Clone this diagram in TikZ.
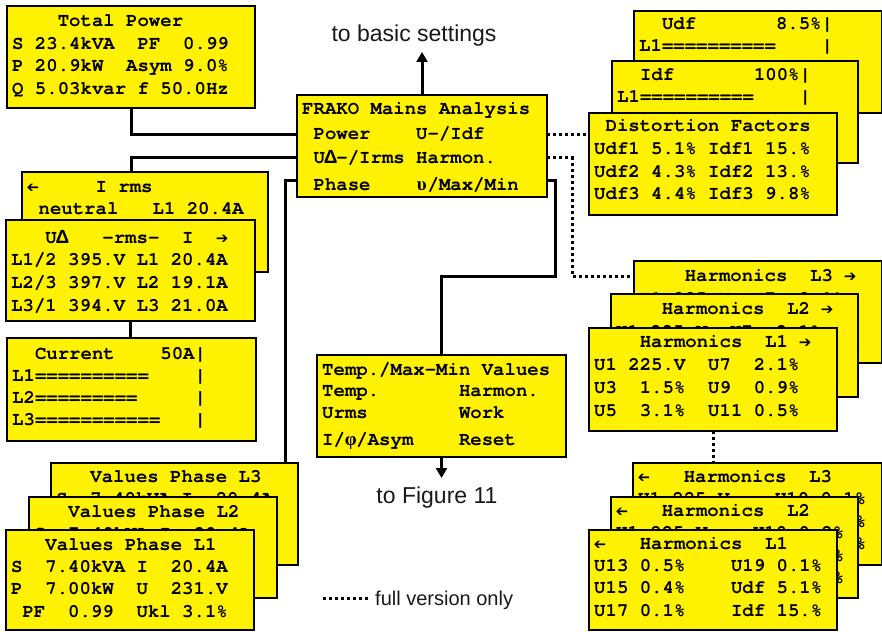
\documentclass[tikz,border=0pt]{standalone}
\usepackage{fontspec}
\newfontfamily\lcdfont{TeX Gyre Cursor}
\newfontfamily\lblfont{Liberation Sans}
\newfontfamily\dingfont{DejaVu Sans}
\newfontfamily\gkfont{Liberation Serif}
\newfontfamily\gksans{Liberation Sans}
\usetikzlibrary{arrows.meta}
\pgfdeclarelayer{wires}
\pgfsetlayers{wires,main}

% one character cell of the display font (19pt, 0.6em advance)
\newdimen\lcdw \lcdw=11.4pt
\newcommand\ind[1]{\hspace*{#1\lcdw}}
\newcommand\lrow[1]{\hbox{#1}}
\newcommand\lcdrows[2]{\vtop{\baselineskip=#1\lineskiplimit=-\maxdimen\lineskip=0pt\relax #2}}
\newcommand\rarr{\makebox[\lcdw]{\dingfont\fontsize{15pt}{15pt}\selectfont ➔}}
\newcommand\larr{\makebox[\lcdw]{\reflectbox{\dingfont\fontsize{15pt}{15pt}\selectfont ➔}}}
\newcommand\gDelta{\makebox[\lcdw]{\gksans\bfseries Δ}}
\newcommand\gups{\makebox[\lcdw]{\gkfont\bfseries υ}}
\newcommand\gphi{\makebox[\lcdw]{\gkfont\bfseries φ}}

\tikzset{
  lcdbox/.style={draw=black, line width=2.4pt, fill=yellow, rectangle,
    inner sep=0pt, outer sep=0pt, anchor=north west},
  lcdtxt/.style={inner sep=0pt, anchor=base west,
    font=\lcdfont\bfseries\fontsize{19pt}{22pt}\selectfont},
  wire/.style={line width=3pt, black},
  dotwire/.style={line width=3pt, black, dash pattern=on 3pt off 3pt},
  arrowline/.style={wire, -{Triangle[length=10pt,width=11pt]}},
  lbl/.style={font=\lblfont\fontsize{23pt}{27pt}\selectfont, inner sep=0pt, text=black!90},
  smalllbl/.style={font=\lblfont\fontsize{20pt}{24pt}\selectfont, inner sep=0pt, text=black!90}
}

% \card{name}{x}{y}{width}{height}{first baseline}{line pitch}{rows}
\newcommand\card[8]{%
  \node[lcdbox, minimum width=#4pt, minimum height=#5pt] (#1) at (#2,#3) {};
  \node[lcdtxt] (#1-t) at (#2+5,#3+#6) {\lcdrows{#7pt}{#8}};
}

\begin{document}
\begin{tikzpicture}[x=1pt, y=-1pt]
\useasboundingbox (0,0) rectangle (882,631);

% ---- main menu
\card{main}{297}{95}{250}{102}{20}{24.5}{%
  \lrow{FRAKO Mains Analysis}
  \lrow{~Power~~~~U-/Idf}
  \lrow{~U\gDelta-/Irms Harmon.}
  \vskip2.5pt
  \lrow{~Phase~~~~\gups/Max/Min}}

% ---- total power
\card{tp}{7}{6}{248}{102}{21}{22.5}{%
  \lrow{~~~~Total Power}
  \lrow{S 23.4kVA~~PF~~0.99}
  \lrow{P 20.9kW~~Asym 9.0\%}
  \lrow{Q 5.03kvar f 50.0Hz}}

% ---- distortion factor screens
\card{udf}{634}{11}{248}{102}{19}{22}{%
  \lrow{~~Udf~~~~~~~8.5\%|}
  \lrow{L1==========~~~~|}}
\card{idf}{612}{61}{246}{102}{20}{22}{%
  \lrow{~~Idf~~~~~~~100\%|}
  \lrow{L1==========~~~~|}}
\card{dist}{589}{113}{248}{102}{19}{22.6}{%
  \lrow{~Distortion Factors}
  \lrow{Udf1 5.1\% Idf1 15.\%}
  \lrow{Udf2 4.3\% Idf2 13.\%}
  \lrow{Udf3 4.4\% Idf3 9.8\%}}

% ---- voltage / current screens
\card{irms}{22}{172}{246}{100}{20}{22}{%
  \lrow{\larr~~~~~I rms}
  \lrow{~neutral~~~L1 20.4A}}
\card{udelta}{6}{220}{249}{101}{23}{22.8}{%
  \lrow{~~~U\gDelta~~~-rms-~~I~~\rarr}
  \lrow{L1/2 395.V L1 20.4A}
  \lrow{L2/3 397.V L2 19.1A}
  \lrow{L3/1 394.V L3 21.0A}}
\card{current}{7}{338}{249}{103}{21}{22.3}{%
  \lrow{~~Current~~~~50A|}
  \lrow{L1==========~~~~|}
  \lrow{L2=========~~~~~|}
  \lrow{L3===========~~~|}}

% ---- harmonics, first page
\card{harm3}{634}{261}{248}{102}{20}{23}{%
  \lrow{~~~~Harmonics~~L3 \rarr}
  \lrow{U1 225.V~~U7~~2.1\%}}
\card{harm2}{611}{294}{247}{103}{20}{23}{%
  \lrow{~~~~Harmonics~~L2 \rarr}
  \lrow{U1 225.V~~U7~~2.1\%}}
\card{harm1}{589}{328}{248}{103}{19}{23}{%
  \lrow{~~~~Harmonics~~L1 \rarr}
  \lrow{U1 225.V~~U7~~2.1\%}
  \lrow{U3~~1.5\%~~U9~~0.9\%}
  \lrow{U5~~3.1\%~~U11 0.5\%}}

% ---- temperature / max-min
\card{temp}{317}{355}{249}{102}{20}{21.5}{%
  \lrow{Temp./Max-Min Values}
  \lrow{Temp.~~~~~~~Harmon.}
  \lrow{Urms~~~~~~~~Work}
  \vskip5.5pt
  \lrow{I/\gphi/Asym~~~~Reset}}

% ---- phase values
\card{vp3}{51}{463}{247}{102}{19}{22.6}{%
  \lrow{~~~Values Phase L3}
  \lrow{S~~7.40kVA I~~20.4A}}
\card{vp2}{29}{497}{248}{101}{20}{22.6}{%
  \lrow{~~~Values Phase L2}
  \lrow{S~~7.40kVA I~~20.4A}}
\card{vp1}{6}{530}{248}{100}{20}{22.4}{%
  \lrow{~~~Values Phase L1}
  \lrow{S~~7.40kVA I~~20.4A}
  \lrow{P~~7.00kW~~U~~231.V}
  \lrow{~PF~~0.99~~Ukl 3.1\%}}

% ---- harmonics, second page
\card{lh3}{633}{463}{249}{102}{19}{22.6}{%
  \lrow{\larr~~~Harmonics~~L3}
  \lrow{U1 225.V~~~~U10 0.1\%}
  \lrow{\ind{19}\%}
  \lrow{\ind{19}\%}}
\card{lh2}{611}{497}{247}{101}{19}{22.6}{%
  \lrow{\larr~~~Harmonics~~L2}
  \lrow{U1 225.V~~~~U10 0.2\%}
  \lrow{\ind{19}\%}
  \lrow{\ind{19}\%}}
\card{lh1}{589}{530}{248}{100}{19}{22.4}{%
  \lrow{\larr~~~Harmonics~~L1}
  \lrow{U13 0.5\%~~~~U19 0.1\%}
  \lrow{U15 0.4\%~~~~Udf 5.1\%}
  \lrow{U17 0.1\%~~~~Idf 15.\%}}

% ---- outside labels
\node[lbl, anchor=base] (basic) at (414,42) {to basic settings};
\node[lbl, anchor=base] (fig11) at (437,503) {to Figure 11};
\coordinate (legA) at (323,598);
\node[smalllbl, anchor=base west] (legtxt) at (375,605) {full version only};
\coordinate (tipB) at ([yshift=-10pt]basic.base);
\coordinate (tipF) at ([yshift=25pt]fig11.base);

% ---- menu ports
\coordinate (pL1) at ([yshift=-40pt]main.north west);
\coordinate (pL2) at ([yshift=-63pt]main.north west);
\coordinate (pL3) at ([yshift=-85pt]main.north west);
\coordinate (pR1) at ([yshift=-40pt]main.north east);
\coordinate (pR2) at ([yshift=-63pt]main.north east);
\coordinate (pR3) at ([yshift=-85pt]main.north east);

\begin{pgfonlayer}{wires}
  \draw[wire] (tp.south) |- (pL1);
  \draw[wire] (tp.south |- irms.north) |- (pL2);
  \draw[wire] (pL3) -| ([xshift=-13pt]vp3.north east);
  \draw[wire] (udelta.south) -- (udelta.south |- current.north);
  \draw[wire] (pR3) -- ++(8,0) |- ([yshift=79pt]temp.north) -- (temp.north);
  \draw[dotwire] (pR1) -- (pR1 -| dist.west);
  \draw[dotwire] (pR2) -- ++(25,0) |- ([yshift=-15pt]harm3.north west);
  \draw[dotwire] (harm1.south) -- (harm1.south |- lh3.north);
\end{pgfonlayer}
\draw[arrowline] (main.north) -- (main.north |- tipB);
\draw[arrowline] (temp.south) -- (temp.south |- tipF);
\draw[dotwire] (legA) -- ++(45,0);
\end{tikzpicture}
\end{document}
